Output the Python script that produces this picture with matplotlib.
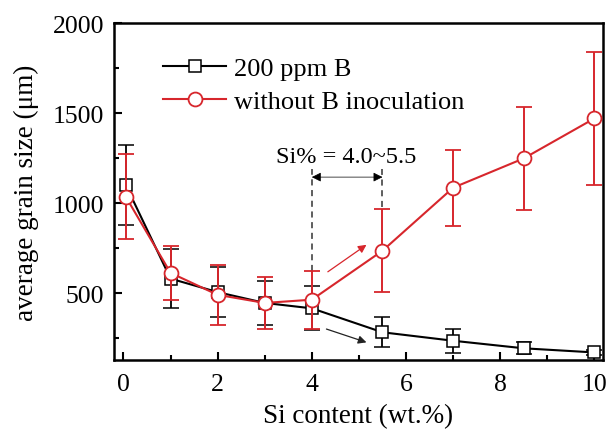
import matplotlib
matplotlib.use("Agg")
import matplotlib.pyplot as plt
from matplotlib.lines import Line2D
from matplotlib.ticker import MultipleLocator

plt.rcParams['font.family'] = ['Liberation Serif', 'DejaVu Serif']

# Si content (wt.%)
si_b = [0.05, 1, 2, 3, 4, 5.5, 7, 8.5, 10]
si_nob = [0.05, 1, 2, 3, 4, 5.5, 7, 8.5, 10]

# average grain size (um) and error
size_b = [1100, 580, 505, 445, 415, 282, 235, 193, 170]
err_b = [220, 165, 140, 120, 123, 83, 68, 33, 15]
size_nob = [1035, 612, 490, 445, 463, 735, 1085, 1248, 1470]
err_nob = [235, 150, 165, 145, 160, 230, 210, 285, 370]

RED = '#d7262c'

fig = plt.figure(figsize=(6.09, 4.31), dpi=100)
ax = fig.add_axes([0.1872, 0.1624, 0.8028, 0.7819])

sq = dict(color='black', lw=1.5, marker='s', ms=8, mfc='white',
          mec='black', mew=1.1)
ci = dict(color=RED, lw=1.5, marker='o', ms=10, mfc='white',
          mec=RED, mew=1.3)

ax.errorbar(si_b, size_b, yerr=err_b, capsize=6, capthick=1.8,
            elinewidth=1.3, zorder=3, **sq)
ax.errorbar(si_nob, size_nob, yerr=err_nob, capsize=6, capthick=1.6,
            elinewidth=1.4, zorder=4, **ci)

# Si% window marker
ax.plot([4, 4], [622, 1189], ls=(0, (4, 3)), color='#333333', lw=1.1, zorder=2)
ax.plot([5.5, 5.5], [980, 1189], ls=(0, (4, 3)), color='#333333', lw=1.1, zorder=2)
ax.annotate('', xy=(4.0, 1144), xytext=(5.5, 1144),
            arrowprops=dict(arrowstyle='<|-|>', color='black', lw=0.5,
                            mutation_scale=14, shrinkA=0, shrinkB=0))
ax.text(4.72, 1256, 'Si% = 4.0~5.5', ha='center', va='center', fontsize=17.5)

# trend arrows
ax.annotate('', xy=(5.16, 768), xytext=(4.34, 618),
            arrowprops=dict(arrowstyle='-|>', color=RED, lw=0.9,
                            mutation_scale=12, shrinkA=0, shrinkB=0))
ax.annotate('', xy=(5.16, 226), xytext=(4.31, 300),
            arrowprops=dict(arrowstyle='-|>', color='#222222', lw=0.9,
                            mutation_scale=12, shrinkA=0, shrinkB=0))

ax.set_xlim(-0.2, 10.18)
ax.set_ylim(128, 2000)
ax.xaxis.set_major_locator(MultipleLocator(2))
ax.xaxis.set_minor_locator(MultipleLocator(1))
ax.yaxis.set_major_locator(MultipleLocator(500))
ax.yaxis.set_minor_locator(MultipleLocator(250))
ax.tick_params(which='both', direction='in', labelsize=18.5, width=1.5)
ax.tick_params(which='major', length=6)
ax.tick_params(which='minor', length=3.5)
ax.tick_params(axis='x', pad=9)
ax.tick_params(axis='y', pad=7)
for s in ax.spines.values():
    s.set_linewidth(1.8)

ax.set_xlabel('Si content (wt.%)', fontsize=19.5, labelpad=6)
ax.set_ylabel('average grain size (μm)', fontsize=19.5, labelpad=10)

handles = [Line2D([], [], **sq), Line2D([], [], **ci)]
ax.legend(handles, ['200 ppm B', 'without B inoculation'],
          loc='upper left', bbox_to_anchor=(0.1, 0.9), frameon=False,
          fontsize=19, handlelength=2.4, handletextpad=0.3,
          labelspacing=0.35, borderaxespad=0, borderpad=0)

fig.savefig('out.png', dpi=100)
